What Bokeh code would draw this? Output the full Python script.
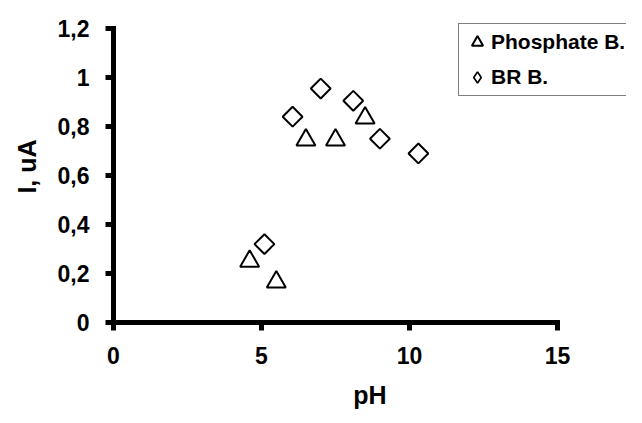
import numpy as np
from bokeh.plotting import figure
from bokeh.models import Range1d, FixedTicker, Legend, LegendItem, ColumnDataSource
from bokeh.embed import file_html
from bokeh.resources import INLINE

# Data
phosphate_ph = [4.6, 5.5, 6.5, 7.5, 8.5]
phosphate_i = [0.25, 0.165, 0.745, 0.745, 0.835]
br_ph = [5.1, 6.05, 7.0, 8.1, 9.0, 10.3]
br_i = [0.32, 0.84, 0.955, 0.905, 0.75, 0.69]

x_ticks = [0, 5, 10, 15]
y_ticks = [0, 0.2, 0.4, 0.6, 0.8, 1.0, 1.2]
y_tick_labels = ["0", "0,2", "0,4", "0,6", "0,8", "1", "1,2"]
series_names = ["Phosphate B.", "BR B."]

FONT = "Liberation Sans"

# axes span x 0..15 over 444 px and y 0..1.2 over 294 px;
# the frame is extended right/up, axis bounds keep the drawn axes at 0..15, 0..1.2
W, H = 626, 407
LEFT, TOP, AX_BOTTOM = 113, 10, 322
fw = W - LEFT
fh = AX_BOTTOM - TOP
x_end = 15 * fw / 444
y_end = 1.2 * fh / 294

p = figure(frame_width=fw, frame_height=fh,
           min_border_left=LEFT, min_border_right=0,
           min_border_top=TOP, min_border_bottom=H - AX_BOTTOM,
           x_range=Range1d(0, x_end), y_range=Range1d(0, y_end),
           output_backend="svg", toolbar_location=None)
p.outline_line_color = None
p.xgrid.visible = False
p.ygrid.visible = False
p.background_fill_color = "white"
p.border_fill_color = "white"

for ax in (p.xaxis[0], p.yaxis[0]):
    ax.axis_line_width = 5
    ax.axis_line_color = "black"
    ax.axis_line_cap = "square"
    ax.major_tick_line_width = 5
    ax.major_tick_line_color = "black"
    ax.major_tick_in = 0
    ax.major_tick_out = 8
    ax.minor_tick_line_color = None
    ax.major_label_text_font = FONT
    ax.major_label_text_font_style = "bold"
    ax.major_label_text_font_size = "23px"
    ax.major_label_text_color = "black"
    ax.axis_label_text_font = FONT
    ax.axis_label_text_font_style = "bold"
    ax.axis_label_text_font_size = "25px"
    ax.axis_label_text_color = "black"

p.xaxis.bounds = (0, 15)
p.yaxis.bounds = (0, 1.2)
p.xaxis.ticker = FixedTicker(ticks=x_ticks)
p.yaxis.ticker = FixedTicker(ticks=y_ticks)
p.yaxis.major_label_overrides = {t: l for t, l in zip(y_ticks, y_tick_labels)}
p.xaxis.major_label_standoff = 16
p.yaxis.major_label_standoff = 16
p.xaxis.axis_label = "pH"
p.yaxis.axis_label = "I, uA"
p.xaxis.axis_label_standoff = 14
p.yaxis.axis_label_standoff = 14

src_p = ColumnDataSource(dict(x=phosphate_ph, y=phosphate_i))
src_b = ColumnDataSource(dict(x=br_ph, y=br_i))

r1 = p.scatter("x", "y", source=src_p, marker="triangle", size=19,
               fill_color="white", line_color="black", line_width=2)
r2 = p.scatter("x", "y", source=src_b, marker="square", size=14, angle=np.pi / 4,
               fill_color="white", line_color="black", line_width=2)

# legend glyph for the diamond series (legend markers are drawn unrotated,
# so a zero-size diamond renderer over the same points supplies the legend glyph)
l2 = p.scatter("x", "y", source=src_b, marker="diamond", size=0,
               fill_color="white", line_color="black", line_width=1.7)

legend = Legend(items=[LegendItem(label=series_names[0], renderers=[r1]),
                       LegendItem(label=series_names[1], renderers=[l2])],
                location=(345, AX_BOTTOM - 96))
legend.label_text_font = FONT
legend.label_text_font_style = "bold"
legend.label_text_font_size = "21px"
legend.label_text_color = "black"
legend.border_line_color = "black"
legend.border_line_width = 1
legend.background_fill_color = "white"
legend.background_fill_alpha = 1
legend.padding = 4
legend.spacing = 7
legend.glyph_width = 28
legend.glyph_height = 28
legend.label_standoff = 0
legend.margin = 0
p.add_layout(legend, "center")

open("out.html", "w").write(file_html(p, INLINE))
